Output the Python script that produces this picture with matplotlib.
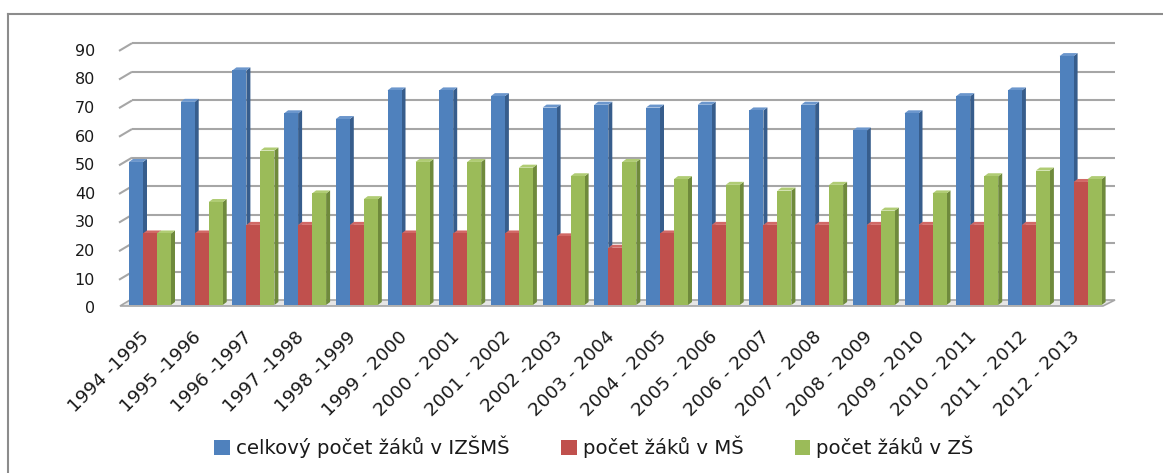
"""
Počty žáků v IZŠMŠ, MŠ a ZŠ po školních letech
(napodobení 3D sloupcového grafu z Excelu)
"""
import matplotlib
matplotlib.use("Agg")
import matplotlib.pyplot as plt
from matplotlib.patches import Polygon, Rectangle
import numpy as np

# ── data ──
roky = [
    "1994 -1995", "1995 -1996", "1996 -1997", "1997 -1998", "1998 -1999",
    "1999 - 2000", "2000 - 2001", "2001 - 2002", "2002 -2003", "2003 - 2004",
    "2004 - 2005", "2005 - 2006", "2006 - 2007", "2007 - 2008", "2008 - 2009",
    "2009 - 2010", "2010 - 2011", "2011 - 2012", "2012 - 2013",
]
celkem_izsms = [50, 71, 82, 67, 65, 75, 75, 73, 69, 70, 69, 70, 68, 70, 61, 67, 73, 75, 87]
zaci_ms = [25, 25, 28, 28, 28, 25, 25, 25, 24, 20, 25, 28, 28, 28, 28, 28, 28, 28, 43]
zaci_zs = [25, 36, 54, 39, 37, 50, 50, 48, 45, 50, 44, 42, 40, 42, 33, 39, 45, 47, 44]
y_ticks = list(range(0, 91, 10))

nazvy = ["celkový počet žáků v IZŠMŠ", "počet žáků v MŠ", "počet žáků v ZŠ"]
# (čelní stěna, boční stěna, horní stěna)
barvy = [
    ("#4f81bd", "#375d8c", "#6b96cc"),
    ("#c0504d", "#8c3836", "#d16966"),
    ("#9bbb59", "#6f8a3c", "#b0cc74"),
]

W, H = 1163, 473
FONT = "DejaVu Sans"

fig = plt.figure(figsize=(W / 100, H / 100), dpi=100)

# osa: y=0 na px 305, y=90 na px 47.5; střed skupiny i na px 150 + 51.7 i
GROUP_PX = 51.7
Y0_PX, Y90_PX = 305.0, 47.5
x_left_px = 150 - 0.5 * GROUP_PX
x_right_px = 150 + 18.5 * GROUP_PX
ax = fig.add_axes([x_left_px / W, 1 - Y0_PX / H,
                   (x_right_px - x_left_px) / W, (Y0_PX - Y90_PX) / H])
ax.set_xlim(-0.5, 18.5)
ax.set_ylim(0, 90)
ax.axis("off")

PX = 1 / GROUP_PX               # 1 px ve směru x (data)
PY = 90 / (Y0_PX - Y90_PX)      # 1 px ve směru y (data)

# ── zadní stěna: mřížka + šikmé náběhy ──
grid_c = "#a6a6a6"
x_back0 = (132 - 150) * PX
x_back1 = (1115 - 150) * PX
x_front0 = (119 - 150) * PX
for v in y_ticks[1:]:
    yb = v + 4.3 * PY
    y_front = yb - 7.7 * PY
    ax.plot([x_back0, x_back1], [yb, yb], color=grid_c, lw=1.5,
            solid_capstyle="butt", clip_on=False, zorder=1)
    ax.plot([x_front0, x_back0], [y_front, yb], color=grid_c, lw=1.5,
            solid_capstyle="butt", clip_on=False, zorder=1)

for v in y_ticks:
    yl = v + 4.3 * PY - 8.0 * PY
    ax.text((95 - 150) * PX, yl, str(v), ha="right", va="center",
            fontsize=11.5, family=FONT, color="#1a1a1a", clip_on=False)

# podlaha
floor = Polygon([[(120 - 150) * PX, -1 * PY], [(1103 - 150) * PX, -1 * PY],
                 [(1115 - 150) * PX, 5 * PY], [(130 - 150) * PX, 5 * PY]],
                closed=True, facecolor="#e6e6e6", edgecolor="#a6a6a6",
                lw=1.2, clip_on=False, zorder=1)
ax.add_patch(floor)

# ── 3D sloupce ──
BAR_W = 14 * PX
DEP_X = 4 * PX
DEP_Y = 3 * PY
x = np.arange(len(roky))
serie = [celkem_izsms, zaci_ms, zaci_zs]

for k, (vals, (c_front, c_side, c_top)) in enumerate(zip(serie, barvy)):
    z = 2 + k
    bars = ax.bar(x + (k - 1) * BAR_W, vals, width=BAR_W, color=c_front,
                  linewidth=0, zorder=z + 0.1, clip_on=False)
    for b in bars:
        x0 = b.get_x()
        x1 = x0 + b.get_width()
        h = b.get_height()
        side = Polygon([[x1, 0], [x1 + DEP_X, DEP_Y], [x1 + DEP_X, h + DEP_Y], [x1, h]],
                       closed=True, facecolor=c_side, lw=0, zorder=z, clip_on=False)
        top = Polygon([[x0, h], [x1, h], [x1 + DEP_X, h + DEP_Y], [x0 + DEP_X, h + DEP_Y]],
                      closed=True, facecolor=c_top, lw=0, zorder=z, clip_on=False)
        ax.add_patch(side)
        ax.add_patch(top)

# ── popisky osy x ──
for i, lab in enumerate(roky):
    ax.text(i - 10 * PX, (305 - 328) * PY, lab,
            rotation=45, rotation_mode="anchor", ha="right", va="top",
            fontsize=13.2, family=FONT, color="#1a1a1a", clip_on=False)

# ── legenda ──
handles = [Rectangle((0, 0), 1, 1, facecolor=c[0], edgecolor="none") for c in barvy]
fig.legend(handles, nazvy, loc="center", bbox_to_anchor=(594 / W, 1 - 447 / H),
           ncol=3, frameon=False, handlelength=0.8, handleheight=0.8,
           handletextpad=0.3, columnspacing=2.6,
           prop={"family": FONT, "size": 14.2}, labelcolor="#1a1a1a")

# rámeček grafu
fig.add_artist(plt.Line2D([8 / W, 8 / W], [0, 1 - 14 / H], color="#8c8c8c", lw=1.5))
fig.add_artist(plt.Line2D([8 / W, 1], [1 - 14 / H, 1 - 14 / H], color="#8c8c8c", lw=1.5))

fig.savefig("out.png", dpi=100)
